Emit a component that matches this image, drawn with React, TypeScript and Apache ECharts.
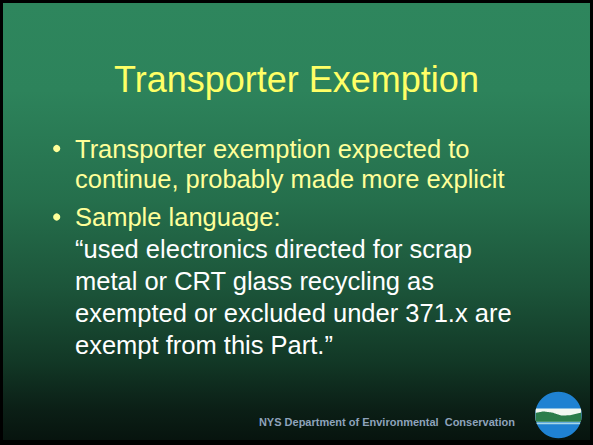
import React, { useEffect, useRef } from "react";
import * as echarts from "echarts";

const W = 593;
const H = 445;

// Slide content
const titleText = "Transporter Exemption";
const bullet1Lines = ["Transporter exemption expected to", "continue, probably made more explicit"];
const bullet2Lines = ["Sample language:"];
const quoteLines = [
  "\u201Cused electronics directed for scrap",
  "metal or CRT glass recycling as",
  "exempted or excluded under 371.x are",
  "exempt from this Part.\u201D",
];
const footerText = "NYS Department of Environmental  Conservation";

const FONT = "'Liberation Sans', Arial, Helvetica, sans-serif";

// convert alphabetic baseline to a central y (zrender uses central baseline in svg)
const yc = (baseline: number, size: number) => baseline - 0.35 * size;

function bandPolygon(
  cx: number,
  cy: number,
  r: number,
  top: (dx: number) => number,
  bot: (dx: number) => number,
  n = 90
): number[][] {
  const upper: number[][] = [];
  const lower: number[][] = [];
  for (let i = 0; i <= n; i++) {
    const dx = -r + (2 * r * i) / n;
    const h = Math.sqrt(Math.max(0, r * r - dx * dx));
    const t = Math.max(top(dx), -h);
    const b = Math.min(bot(dx), h);
    if (t < b) {
      upper.push([cx + dx, cy + t]);
      lower.push([cx + dx, cy + b]);
    }
  }
  return upper.concat(lower.reverse());
}

function piecewise(pts: number[][]) {
  return (x: number) => {
    if (x <= pts[0][0]) return pts[0][1];
    for (let i = 1; i < pts.length; i++) {
      if (x <= pts[i][0]) {
        const [x0, y0] = pts[i - 1];
        const [x1, y1] = pts[i];
        return y0 + ((y1 - y0) * (x - x0)) / (x1 - x0);
      }
    }
    return pts[pts.length - 1][1];
  };
}

export default function App() {
  const ref = useRef<HTMLDivElement>(null);
  useEffect(() => {
    document.body.style.margin = "0";
    if (!ref.current) return;
    const chart = echarts.init(ref.current, undefined, { renderer: "svg", width: W, height: H });

    const elements: any[] = [];
    // frame
    elements.push({ type: "rect", shape: { x: 0, y: 0, width: W, height: H }, style: { fill: "#000000" } });
    elements.push({
      type: "rect",
      shape: { x: 3, y: 3, width: W - 6, height: H - 8 },
      style: {
        fill: new echarts.graphic.LinearGradient(0, 0, 0, 1, [
          { offset: 0, color: "#2E865D" },
          { offset: 0.2, color: "#2D835B" },
          { offset: 0.45, color: "#256F4C" },
          { offset: 0.65, color: "#1C553A" },
          { offset: 0.82, color: "#123826" },
          { offset: 0.93, color: "#0B1F16" },
          { offset: 1, color: "#07140E" },
        ]),
      },
    });

    // title
    elements.push({
      type: "text",
      x: W / 2,
      y: yc(92, 36),
      style: { text: titleText, font: `36px ${FONT}`, fill: "#FFFF66", textAlign: "center", textVerticalAlign: "middle" },
    });

    const bodySize = 25.5;
    const bodyFont = `${bodySize}px ${FONT}`;
    const textX = 75;
    const b1Base = [158, 188];
    const b2Base = [226];
    const qBase = [258, 290, 322, 354];

    const addLines = (lines: string[], bases: number[], color: string) => {
      lines.forEach((t, i) => {
        elements.push({
          type: "text",
          x: textX,
          y: yc(bases[i], bodySize),
          style: { text: t, font: bodyFont, fill: color, textAlign: "left", textVerticalAlign: "middle" },
        });
      });
    };
    addLines(bullet1Lines, b1Base, "#FFFF99");
    addLines(bullet2Lines, b2Base, "#FFFF99");
    addLines(quoteLines, qBase, "#FFFFFF");

    // bullet dots
    [148.5, 217].forEach((cy) => {
      elements.push({ type: "circle", shape: { cx: 56.7, cy, r: 3.6 }, style: { fill: "#FFFF99" } });
    });

    // footer
    elements.push({
      type: "text",
      x: 515,
      y: yc(426, 11),
      style: { text: footerText, font: `bold 11px ${FONT}`, fill: "#8EA3BB", textAlign: "right", textVerticalAlign: "middle" },
    });

    // logo
    const cx = 558.4;
    const cy = 415;
    const r = 23.3;
    elements.push({ type: "circle", shape: { cx, cy, r }, style: { fill: "#1F82D2" } });
    const whiteTop = () => -6.5;
    const greenTop = piecewise([
      [-23.3, -2],
      [-15, -3.6],
      [-6, -2.4],
      [3, 0.6],
      [12, 0.2],
      [23.3, -2.6],
    ]);
    const greenBot = () => 6.8;
    elements.push({ type: "polygon", shape: { points: bandPolygon(cx, cy, r, whiteTop, greenBot) }, style: { fill: "#F2F8F2" } });
    elements.push({ type: "polygon", shape: { points: bandPolygon(cx, cy, r, greenTop, greenBot) }, style: { fill: "#2B7D4B" } });
    elements.push({
      type: "polygon",
      shape: { points: bandPolygon(cx, cy, r, () => 7.4, () => 9.2) },
      style: { fill: "#A6D6E6" },
    });

    chart.setOption({ animation: false, graphic: { elements } });
    return () => chart.dispose();
  }, []);
  return <div ref={ref} style={{ width: W, height: H }} />;
}
